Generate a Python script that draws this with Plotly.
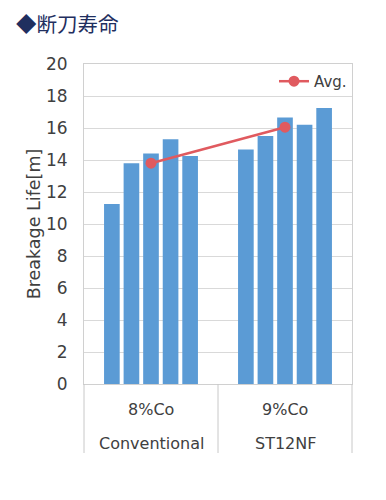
import plotly.graph_objects as go

title_text = "◆断刀寿命"
groups_outer = ["Conventional", "ST12NF"]
groups_inner = ["8%Co", "9%Co"]
conventional_8co = [11.25, 13.8, 14.4, 15.3, 14.25]
st12nf_9co = [14.65, 15.5, 16.65, 16.2, 17.25]
avg_values = [13.8, 16.05]
y_ticks = [0, 2, 4, 6, 8, 10, 12, 14, 16, 18, 20]
y_title = "Breakage Life[m]"
legend_name = "Avg."

BAR = "#5b9bd5"
RED = "#e05a5f"
TXT = "#404040"
FONT = "DejaVu Sans"
GRID = "#d9d9d9"

# page has an 8px body margin, so the figure is drawn 8px in from top/left
W, H = 378, 492
ML, MR, MT, MB = 76, 34, 56, 116
PLOT_H = H - MT - MB

fig = go.Figure()
for i in range(len(conventional_8co)):
    fig.add_trace(go.Bar(
        x=groups_outer, y=[conventional_8co[i], st12nf_9co[i]],
        marker=dict(color=BAR, line=dict(width=0)),
        showlegend=False, hoverinfo="y",
    ))
fig.add_trace(go.Scatter(
    x=groups_outer, y=avg_values, mode="lines+markers", name=legend_name,
    line=dict(color=RED, width=2.5), marker=dict(color=RED, size=11),
))

fig.update_layout(
    width=W, height=H,
    margin=dict(l=ML, r=MR, t=MT, b=MB),
    paper_bgcolor="white", plot_bgcolor="white",
    barmode="group", bargap=0.27, bargroupgap=0.2,
    font=dict(family=FONT, color=TXT, size=16),
    showlegend=True,
    legend=dict(x=1.0, y=0.997, xanchor="right", yanchor="top",
                bgcolor="rgba(0,0,0,0)", font=dict(size=15, color=TXT),
                itemwidth=30, tracegroupgap=0),
    xaxis=dict(type="category", showgrid=False, showline=True,
               linecolor="#d0d0d0", linewidth=1, mirror=True,
               showticklabels=False, ticks="", automargin=False),
    yaxis=dict(range=[0, 20], tickvals=y_ticks, showgrid=True,
               gridcolor=GRID, gridwidth=1, showline=True,
               linecolor="#d0d0d0", mirror=True, zeroline=False,
               tickfont=dict(size=17, color=TXT), ticks="",
               ticklabelstandoff=12, automargin=False,
               title=dict(text=y_title, font=dict(size=17.5, color=TXT), standoff=0)),
)

# two-level category labels below the axis
n = len(groups_outer)
for i in range(n):
    fig.add_annotation(text=groups_inner[i], xref="x", yref="paper",
                       x=groups_outer[i], y=0, yshift=-25, showarrow=False,
                       yanchor="middle", font=dict(size=16, color=TXT))
    fig.add_annotation(text=groups_outer[i], xref="x", yref="paper",
                       x=groups_outer[i], y=0, yshift=-59, showarrow=False,
                       yanchor="middle", font=dict(size=16, color=TXT))
for j in range(n + 1):
    fig.add_shape(type="line", xref="paper", yref="paper",
                  x0=j / n, x1=j / n, y0=0, y1=-69 / PLOT_H,
                  line=dict(color="#c8c8c8", width=1))

fig.add_annotation(text=title_text, xref="paper", yref="paper",
                   x=0, y=1, xanchor="left", yanchor="middle",
                   xshift=-69, yshift=41, showarrow=False, borderpad=0,
                   font=dict(size=20.5, color="#1f2f5f", family="Noto Sans CJK JP"))

fig.write_html("out.html")
